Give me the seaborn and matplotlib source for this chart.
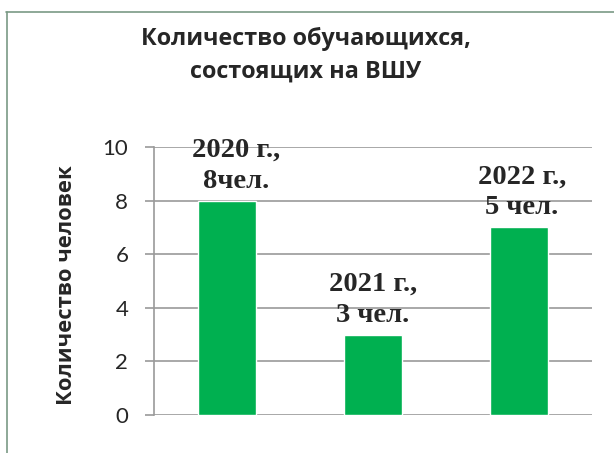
import matplotlib
matplotlib.use("Agg")
import matplotlib.pyplot as plt
import seaborn as sns
import pandas as pd
from matplotlib.lines import Line2D

years = ["2020", "2021", "2022"]
values = [8, 3, 7]
bar_labels = ["2020 г.,\n8чел.", "2021 г.,\n3 чел.", "2022 г.,\n5 чел."]
title = "Количество обучающихся,\nсостоящих на ВШУ"
ylabel = "Количество человек"
yticks = [0, 2, 4, 6, 8, 10]

# label nudges (points), layout only
label_dx = [6.5, 0, 2]

sns.set_style("white")
plt.rcParams['font.family'] = ['Lato', 'DejaVu Sans']

W, H = 614, 453
fig = plt.figure(figsize=(W / 100, H / 100), dpi=100)
ax = fig.add_axes([154 / W, 1 - 415 / H, (592 - 154) / W, (415 - 147) / H])

df = pd.DataFrame({"year": years, "value": values})
sns.barplot(data=df, x="year", y="value", color="#00B050", saturation=1,
            width=0.40, ax=ax)

ax.set_ylim(0, 10)
ax.set_xlim(-0.5, 2.5)
ax.set_yticks(yticks)
ax.set_yticklabels([str(t) for t in yticks], fontsize=16)
ax.set_xticks([])
ax.set_xlabel("")
ax.set_ylabel("")
ax.yaxis.grid(True, color="#9a9a9a", lw=1.2)
ax.set_axisbelow(True)
for s in ["top", "right", "bottom"]:
    ax.spines[s].set_visible(False)
ax.spines["left"].set_color("#9a9a9a")
ax.spines["left"].set_linewidth(1.2)
ax.tick_params(axis="y", which="both", left=True, length=6.5, width=1.2,
               color="#9a9a9a", pad=12)

fig.text(67 / W, 1 - 285 / H, ylabel, rotation=90, ha="center", va="center",
         fontsize=15.8, fontweight="bold", family=["Open Sans", "DejaVu Sans"])

for i, (v, lab) in enumerate(zip(values, bar_labels)):
    ax.annotate(lab, (i, v), xytext=(label_dx[i], 5), textcoords="offset points",
                ha="center", va="bottom", fontsize=20.5, fontweight="bold",
                family=["Liberation Serif", "DejaVu Serif"], linespacing=1.3,
                annotation_clip=False)

fig.text(306 / W, 1 - 55 / H, title, ha="center", va="center", fontsize=16.8,
         fontweight="bold", linespacing=1.45, family=["Open Sans", "DejaVu Sans"])

# chart area border (top and left visible)
fig.add_artist(Line2D([6 / W, 1.0], [1 - 11.5 / H, 1 - 11.5 / H],
                      transform=fig.transFigure, color="#7a9a85", lw=1.2))
fig.add_artist(Line2D([6.5 / W, 6.5 / W], [1 - 11.5 / H, 0],
                      transform=fig.transFigure, color="#7a9a85", lw=1.2))

fig.savefig("out.png", dpi=100)
